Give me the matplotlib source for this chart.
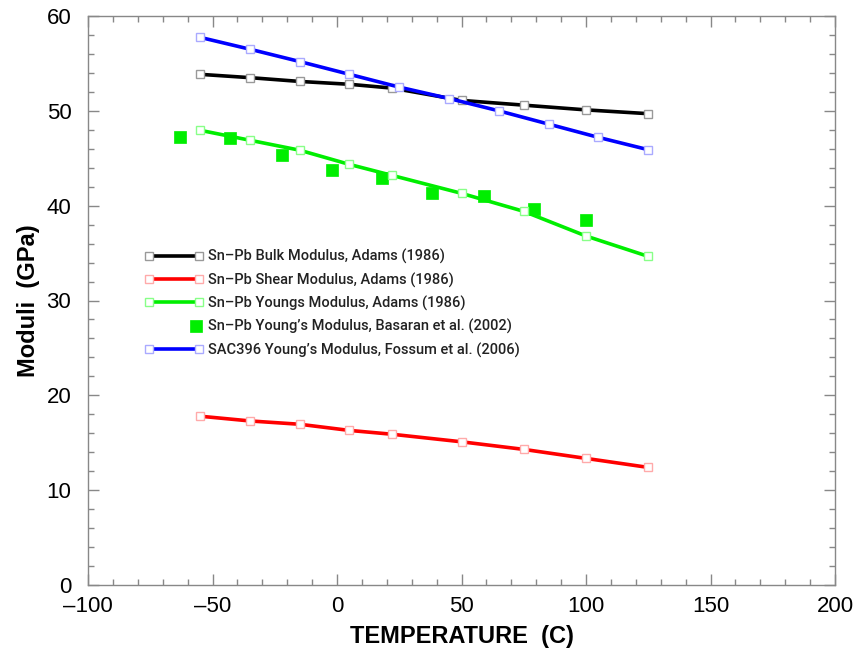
import matplotlib
matplotlib.use("Agg")
import matplotlib.pyplot as plt
from matplotlib.legend_handler import HandlerLine2D
from matplotlib.ticker import MultipleLocator
import numpy as np

plt.rcParams['font.family'] = ['Liberation Sans', 'DejaVu Sans']

# Data
t_adams = [-55, -35, -15, 5, 22, 50, 75, 100, 125]
bulk_adams = [53.85, 53.5, 53.1, 52.8, 52.4, 51.1, 50.6, 50.1, 49.7]
shear_adams = [17.8, 17.3, 16.95, 16.3, 15.9, 15.1, 14.3, 13.35, 12.4]
youngs_adams = [47.95, 46.9, 45.85, 44.35, 43.2, 41.3, 39.4, 36.8, 34.65]

t_basaran = [-63, -43, -22, -2, 18, 38, 59, 79, 100]
youngs_basaran = [47.25, 47.1, 45.3, 43.75, 42.9, 41.3, 41.0, 39.7, 38.5]

t_sac = [-55, -35, -15, 5, 25, 45, 65, 85, 105, 125]
youngs_sac = [57.75, 56.5, 55.2, 53.85, 52.5, 51.3, 50.0, 48.6, 47.2, 45.9]

labels = ["Sn\u2013Pb Bulk Modulus, Adams (1986)",
          "Sn\u2013Pb Shear Modulus, Adams (1986)",
          "Sn\u2013Pb Youngs Modulus, Adams (1986)",
          "Sn\u2013Pb Young\u2019s Modulus, Basaran et al. (2002)",
          "SAC396 Young\u2019s Modulus, Fossum et al. (2006)"]

W, H = 857, 652
fig = plt.figure(figsize=(W / 100, H / 100), dpi=100)
ax = fig.add_axes([88 / W, (H - 585) / H, (835 - 88) / W, (585 - 16) / H])

lw = 2.6
ms = 6
l1, = ax.plot(t_adams, bulk_adams, color='black', lw=lw, marker='s', ms=ms,
              mfc='white', mec='#999999', mew=1.0)
l2, = ax.plot(t_adams, shear_adams, color='#ff0000', lw=lw, marker='s', ms=ms,
              mfc='white', mec='#ffaaaa', mew=1.0)
l3, = ax.plot(t_adams, youngs_adams, color='#00ee00', lw=lw, marker='s', ms=ms,
              mfc='white', mec='#88ff88', mew=1.0)
l4, = ax.plot(t_basaran, youngs_basaran, ls='none', marker='s', ms=9,
              mfc='#00ee00', mec='#00ee00', mew=0.5)
l5, = ax.plot(t_sac, youngs_sac, color='#0000ff', lw=lw, marker='s', ms=ms,
              mfc='white', mec='#aaaaff', mew=1.0)
l4.set_zorder(1.5)

ax.set_xlim(-100, 200)
ax.set_ylim(0, 60)
ax.xaxis.set_major_locator(MultipleLocator(50))
ax.xaxis.set_minor_locator(MultipleLocator(10))
ax.yaxis.set_major_locator(MultipleLocator(10))
ax.yaxis.set_minor_locator(MultipleLocator(2))
ax.tick_params(which='both', direction='in', top=True, right=True,
               color='#888888', labelsize=16)
ax.tick_params(axis='x', which='major', pad=8)
ax.tick_params(axis='y', which='major', pad=12)
ax.tick_params(which='major', length=8, width=1)
ax.tick_params(which='minor', length=4, width=1)
for s in ax.spines.values():
    s.set_color('#888888')
    s.set_linewidth(1)
ax.xaxis.set_major_formatter(matplotlib.ticker.FuncFormatter(
    lambda v, p: ('\u2013' if v < 0 else '') + f"{abs(int(v))}"))

ax.set_xlabel("TEMPERATURE  (C)", fontsize=17, fontweight='bold', labelpad=6)
ax.set_ylabel("Moduli  (GPa)", fontsize=17, fontweight='bold', labelpad=5)


class RightMarkerHandler(HandlerLine2D):
    def get_xdata(self, legend, xdescent, ydescent, width, height, fontsize):
        x = -xdescent + width - 0.5 * fontsize
        return np.array([x]), np.array([x])


leg = ax.legend([l1, l2, l3, l4, l5], labels, loc='upper left',
                bbox_to_anchor=(145 / W, (H - 249) / H),
                bbox_transform=fig.transFigure, frameon=False,
                prop={'family': ['Roboto', 'Liberation Sans'],
                      'size': 10.5, 'weight': 'medium'},
                handlelength=4.0, handletextpad=0.35,
                labelspacing=0.56, borderpad=0, borderaxespad=0,
                numpoints=2, handler_map={l4: RightMarkerHandler(numpoints=2)})
for txt in leg.get_texts():
    txt.set_color('#222222')

fig.savefig('out.png', dpi=100)
